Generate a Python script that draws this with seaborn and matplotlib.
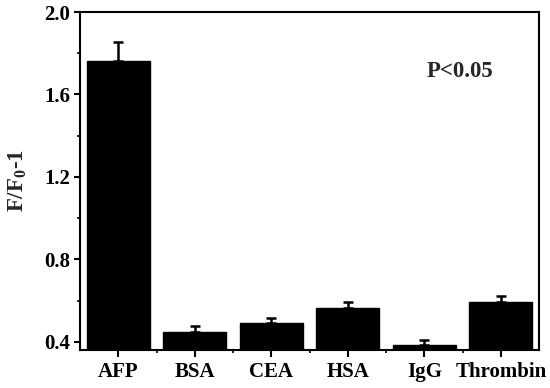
import matplotlib
matplotlib.use("Agg")
import matplotlib.pyplot as plt
import seaborn as sns
import pandas as pd
from matplotlib.ticker import MultipleLocator

categories = ["AFP", "BSA", "CEA", "HSA", "IgG", "Thrombin"]
values = [1.764, 0.449, 0.489, 0.565, 0.384, 0.591]
errors = [0.09, 0.027, 0.025, 0.03, 0.023, 0.032]

sns.set_theme(style="ticks")
plt.rcParams["font.family"] = ["Liberation Serif", "DejaVu Serif"]
plt.rcParams["font.weight"] = "bold"
plt.rcParams["mathtext.fontset"] = "custom"
plt.rcParams["mathtext.rm"] = "Liberation Serif:bold"
plt.rcParams["mathtext.it"] = "Liberation Serif:bold"
plt.rcParams["mathtext.bf"] = "Liberation Serif:bold"

df = pd.DataFrame({"cat": categories, "val": values})

fig = plt.figure(figsize=(5.5, 3.88), dpi=100)
ax = fig.add_axes([0.1455, 0.098, 0.8345, 0.871])

sns.barplot(data=df, x="cat", y="val", color="black", width=0.82,
            errorbar=None, ax=ax, saturation=1)
for p in ax.patches:
    p.set_edgecolor("black")
ax.errorbar(range(len(categories)), values, yerr=[[0]*len(errors), errors],
            fmt="none", ecolor="black", elinewidth=1.8, capsize=3.5, capthick=1.8)

ax.set_ylim(0.36, 2.0)
ax.set_xlim(-0.5, 5.5)
ax.yaxis.set_minor_locator(MultipleLocator(0.2))
ax.set_yticks([0.4, 0.8, 1.2, 1.6, 2.0])
ax.set_yticklabels(["0.4", "0.8", "1.2", "1.6", "2.0"])
ax.set_xticks(range(len(categories)))
ax.set_xticks([i + 0.5 for i in range(len(categories) - 1)], minor=True)
ax.set_xticklabels(categories)

for s in ax.spines.values():
    s.set_linewidth(1.5)
    s.set_color("black")
    s.set_visible(True)

ax.tick_params(axis="y", which="major", direction="out", length=4, width=1.5,
               labelsize=15, colors="black", pad=3)
ax.tick_params(axis="x", which="major", direction="out", length=5, width=1.5,
               labelsize=15, colors="black", pad=4)
ax.tick_params(axis="both", which="minor", direction="out", length=2.5, width=1.2,
               colors="black")
for lab in ax.get_xticklabels() + ax.get_yticklabels():
    lab.set_fontweight("bold")

ax.set_xlabel("")
ax.set_ylabel("F/F$_0$-1", fontsize=16.5, fontweight="bold")
ax.yaxis.set_label_coords(-0.112, 0.5)
ax.text(4.47, 1.709, "P<0.05", fontsize=16.5, fontweight="bold",
        ha="center", va="center")

fig.savefig("out.png", dpi=100)
